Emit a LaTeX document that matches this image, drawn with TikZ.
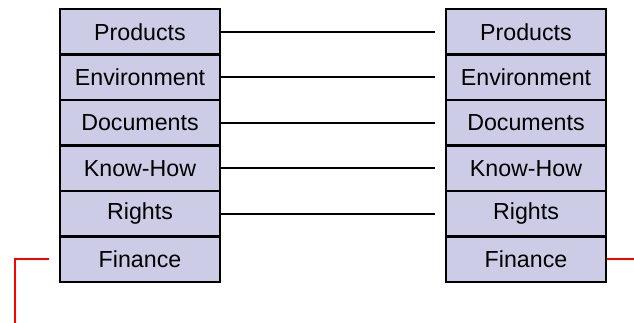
\documentclass[tikz,border=0pt]{standalone}
\usepackage{fontspec}
\setmainfont{Liberation Sans}
\definecolor{cellfill}{RGB}{204,204,230}
\definecolor{linkred}{RGB}{255,0,0}
\begin{document}
\begin{tikzpicture}[x=1pt,y=-1pt,
  cell/.style={draw=black, line width=2.6pt, fill=cellfill, rectangle,
    minimum width=160pt, minimum height=45.5pt, inner sep=0pt,
    font=\fontsize{23.2}{26}\selectfont, text=black},
  link/.style={line width=2.4pt, draw=black, shorten >=10pt},
  redlink/.style={line width=2.4pt, draw=linkred}]
  \useasboundingbox (0,0) rectangle (634,323);
  % two stacks of six cells each
  \foreach \i/\t in {1/Products,2/Environment,3/Documents,4/Know-How,5/Rights,6/Finance}{
    \node[cell] (L\i) at (140, 9+45.5*\i-22.75) {\t};
    \node[cell] (R\i) at (526, 9+45.5*\i-22.75) {\t};
  }
  % links between matching cells
  \foreach \i in {1,...,5}{
    \draw[link] (L\i.east) -- (R\i.west);
  }
  % red connectors leaving the Finance cells
  \coordinate (lcorner) at (15, 259.25);
  \coordinate (lend) at (15, 323);
  \coordinate (rend) at (634, 259.25);
  \draw[redlink] ([xshift=-10pt]L6.west) -- (lcorner) -- (lend);
  \draw[redlink] (R6.east) -- (rend);
\end{tikzpicture}
\end{document}
